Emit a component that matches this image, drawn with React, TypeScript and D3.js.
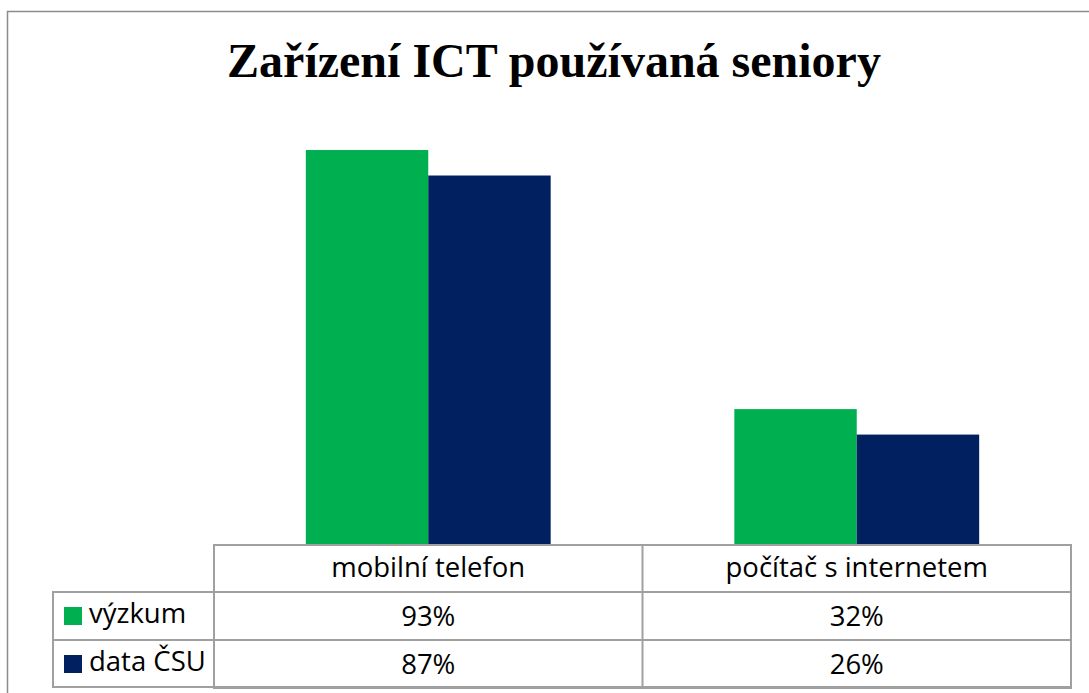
import React from "react";
import * as d3 from "d3";

const title = "Zařízení ICT používaná seniory";
const categories = ["mobilní telefon", "počítač s internetem"];
const seriesNames = ["výzkum", "data ČSU"];
const vyzkum = [0.93, 0.32];
const dataCSU = [0.87, 0.26];
const seriesColors = ["#00B050", "#002060"];

const W = 1089;
const H = 693;

export default function App() {
  const series = [vyzkum, dataCSU];
  const tableLeft = 214;
  const tableRight = 1071;
  const legendLeft = 53;
  const baseY = 545;
  const rowH = 48;

  const x = d3.scaleBand<string>().domain(categories).range([tableLeft, tableRight]).paddingInner(0).paddingOuter(0);
  const xs = d3.scaleBand<string>().domain(seriesNames).range([0, x.bandwidth()]).paddingInner(0).paddingOuter(0.75);
  const y = d3.scaleLinear().domain([0, 1]).range([baseY, 120.3]);
  const fmt = d3.format(".0%");

  const lineColor = "#A0A0A0";
  const tfont = "'Open Sans', 'Noto Sans', sans-serif";
  const tsize = 27.5;

  return (
    <svg width={W} height={H} style={{ position: "absolute", left: 0, top: 0, background: "#fff" }}>
      <rect x={0} y={0} width={W} height={H} fill="#fff" />
      {/* outer border */}
      <path d={`M7.5,${H + 5} V11.5 H${W + 5}`} fill="none" stroke="#8C8C8C" strokeWidth={1.5} />
      <text x={554} y={77} textAnchor="middle" fontFamily="'Liberation Serif', 'Times New Roman', serif" fontWeight="bold" fontSize={48} fill="#000">
        {title}
      </text>
      {/* bars */}
      {categories.map((c, ci) => (
        <g key={c}>
          {seriesNames.map((s, si) => (
            <rect
              key={s}
              x={(x(c) as number) + (xs(s) as number)}
              y={y(series[si][ci])}
              width={xs.bandwidth()}
              height={baseY - y(series[si][ci])}
              fill={seriesColors[si]}
            />
          ))}
        </g>
      ))}
      {/* table */}
      <g fill="none" stroke={lineColor} strokeWidth={2}>
        <rect x={tableLeft} y={baseY} width={tableRight - tableLeft} height={rowH * 3 - 1} />
        <rect x={legendLeft} y={baseY + 47} width={tableRight - legendLeft} height={rowH * 2 - 1} />
        <line x1={legendLeft} x2={tableRight} y1={baseY + 47 + 48} y2={baseY + 47 + 48} />
        {categories.slice(1).map((c) => (
          <line key={c} x1={x(c)} x2={x(c)} y1={baseY} y2={baseY + rowH * 3 - 1} />
        ))}
      </g>
      {categories.map((c) => (
        <text key={c} x={(x(c) as number) + x.bandwidth() / 2} y={baseY + 32} textAnchor="middle" fontFamily={tfont} fontSize={tsize} fill="#000">
          {c}
        </text>
      ))}
      {seriesNames.map((s, si) => {
        const ry = baseY + 47 + si * 48;
        return (
          <g key={s}>
            <rect x={64} y={ry + 15} width={18} height={18} fill={seriesColors[si]} />
            <text x={89} y={ry + 31} fontFamily={tfont} fontSize={tsize} fill="#000">{s}</text>
            {categories.map((c, ci) => (
              <text key={c} x={(x(c) as number) + x.bandwidth() / 2} y={ry + 33.5} textAnchor="middle" fontFamily={tfont} fontSize={tsize} fill="#000">
                {fmt(series[si][ci])}
              </text>
            ))}
          </g>
        );
      })}
    </svg>
  );
}
